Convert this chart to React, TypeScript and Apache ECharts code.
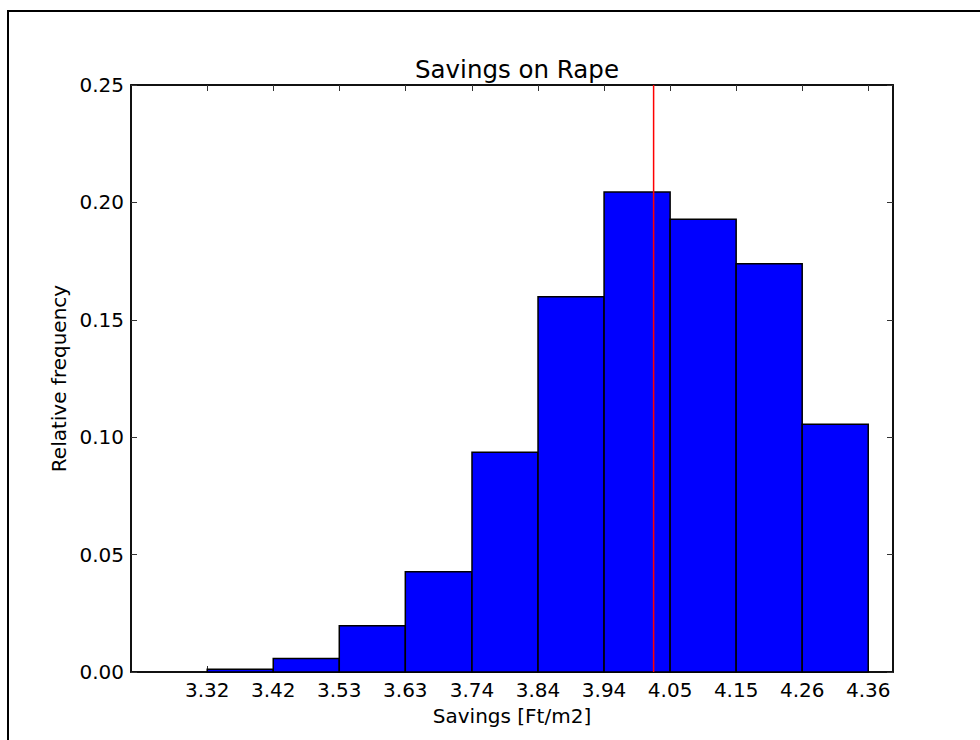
import React, { useEffect, useRef } from "react";
import * as echarts from "echarts";

const binEdges = [3.320, 3.424, 3.528, 3.632, 3.737, 3.841, 3.945, 4.049, 4.153, 4.257, 4.361];
const tickLabels = ["3.32", "3.42", "3.53", "3.63", "3.74", "3.84", "3.94", "4.05", "4.15", "4.26", "4.36"];
const frequencies = [0.0012, 0.0058, 0.0197, 0.0427, 0.0936, 0.1598, 0.2044, 0.1928, 0.1739, 0.1055];
const meanValue = 4.023;
const yTicks = [0, 0.05, 0.1, 0.15, 0.2, 0.25];

const FONT = "DejaVu Sans";

export default function App() {
  const ref = useRef<HTMLDivElement>(null);
  useEffect(() => {
    if (!ref.current) return;
    const chart = echarts.init(ref.current, null, { renderer: "svg" });
    const bins = frequencies.map((f, i) => [binEdges[i], binEdges[i + 1], f]);
    const labelFor = (v: number) => {
      let best = 0;
      for (let i = 0; i < binEdges.length; i++) {
        if (Math.abs(binEdges[i] - v) < Math.abs(binEdges[best] - v)) best = i;
      }
      return tickLabels[best];
    };
    const tickStyle = { show: true, inside: true, length: 6, lineStyle: { color: "#333", width: 1 } };
    const lineStyle = { show: true, onZero: false, lineStyle: { color: "#111", width: 2 } };
    chart.setOption({
      animation: false,
      backgroundColor: "#fff",
      title: {
        text: "Savings on Rape",
        left: 512,
        textAlign: "center",
        top: 52,
        textStyle: { fontFamily: FONT, fontSize: 24.5, fontWeight: "normal", color: "#000" },
      },
      graphic: [
        {
          type: "rect",
          shape: { x: 8, y: 11, width: 1000, height: 1000 },
          style: { fill: "none", stroke: "#000", lineWidth: 2 },
          silent: true,
        },
      ],
      grid: { left: 131, right: 87, top: 85, bottom: 68, containLabel: false, outerBoundsMode: "none" },
      xAxis: [
        {
          type: "value",
          min: 3.2,
          max: 4.4,
          position: "bottom",
          axisLine: lineStyle,
          axisTick: { ...tickStyle, customValues: binEdges },
          axisLabel: {
            customValues: binEdges,
            formatter: (v: number) => labelFor(v),
            fontFamily: FONT,
            fontSize: 20,
            color: "#000",
            margin: 8,
          },
          splitLine: { show: false },
          name: "Savings [Ft/m2]",
          nameLocation: "middle",
          nameGap: 34,
          nameTextStyle: { fontFamily: FONT, fontSize: 20, color: "#000" },
        },
        {
          type: "value",
          min: 3.2,
          max: 4.4,
          position: "top",
          axisLine: lineStyle,
          axisTick: { ...tickStyle, customValues: binEdges },
          axisLabel: { show: false },
          splitLine: { show: false },
        },
      ],
      yAxis: [
        {
          type: "value",
          min: 0,
          max: 0.25,
          interval: 0.05,
          position: "left",
          axisLine: lineStyle,
          axisTick: { ...tickStyle, customValues: yTicks },
          axisLabel: {
            formatter: (v: number) => v.toFixed(2),
            fontFamily: FONT,
            fontSize: 20,
            color: "#000",
            margin: 7,
          },
          splitLine: { show: false },
          name: "Relative frequency",
          nameLocation: "middle",
          nameGap: 57,
          nameTextStyle: { fontFamily: FONT, fontSize: 20, color: "#000" },
        },
        {
          type: "value",
          min: 0,
          max: 0.25,
          interval: 0.05,
          position: "right",
          axisLine: lineStyle,
          axisTick: { ...tickStyle, customValues: yTicks },
          axisLabel: { show: false },
          splitLine: { show: false },
        },
      ],
      series: [
        {
          type: "custom",
          xAxisIndex: 0,
          yAxisIndex: 0,
          data: bins,
          encode: { x: [0, 1], y: 2 },
          renderItem: (params: any, api: any) => {
            const x0 = api.value(0);
            const x1 = api.value(1);
            const v = api.value(2);
            const p0 = api.coord([x0, v]);
            const p1 = api.coord([x1, 0]);
            return {
              type: "rect",
              shape: { x: p0[0], y: p0[1], width: p1[0] - p0[0], height: p1[1] - p0[1] },
              style: { fill: "#0000ff", stroke: "#000", lineWidth: 1.5 },
            };
          },
          z: 2,
        },
        {
          type: "line",
          xAxisIndex: 0,
          yAxisIndex: 0,
          data: [
            [meanValue, 0],
            [meanValue, 0.25],
          ],
          symbol: "none",
          lineStyle: { color: "#ff0000", width: 1.5 },
          z: 3,
        },
      ],
    });
    return () => chart.dispose();
  }, []);
  return (
    <div
      ref={ref}
      style={{ position: "fixed", left: 0, top: 0, width: 980, height: 740, background: "#fff" }}
    />
  );
}
